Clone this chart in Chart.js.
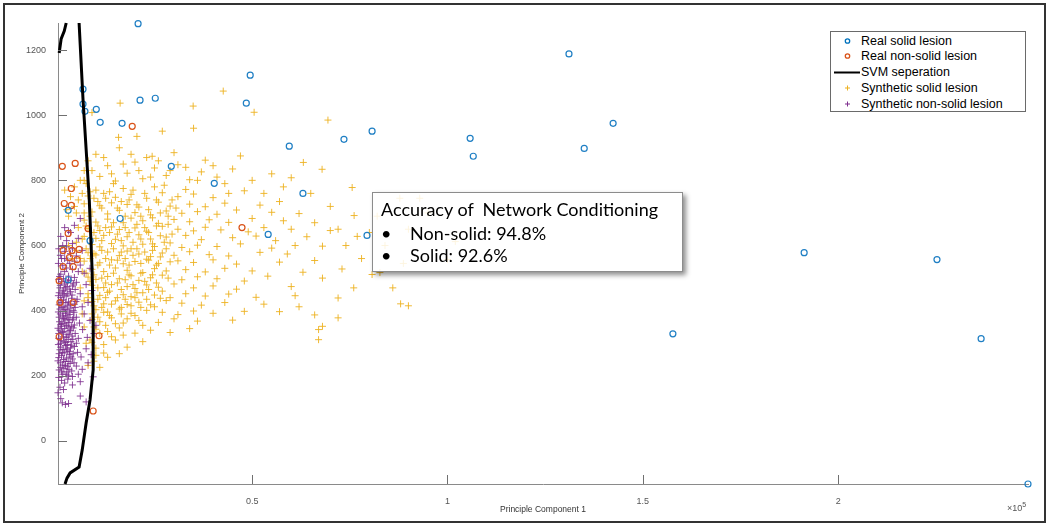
<!DOCTYPE html>
<html>
<head>
<meta charset="utf-8">
<script src="https://cdn.jsdelivr.net/npm/chart.js@4.4.1/dist/chart.umd.min.js"></script>
<style>
  body { margin: 0; background: #fff; }
  #wrap { position: relative; width: 1050px; height: 528px; }
  #legend {
    position: absolute; left: 830px; top: 31px; width: 194px; height: 79px;
    border: 1px solid #6a6a6a; background: #fff;
    font: 12.5px "Liberation Sans", Arial, sans-serif; color: #000;
  }
  #legend .row { position: absolute; left: 0; height: 16px; line-height: 16px; white-space: nowrap; }
  #legend svg { position: absolute; left: 0; top: 0; }
  #legend span { position: absolute; left: 30px; top: 0; }
  #note {
    position: absolute; left: 372px; top: 192px; width: 309px; height: 78px;
    border: 1.5px solid #8c8c8c; background: rgba(255, 255, 255, 0.85);
    box-shadow: 3px 3px 5px rgba(0, 0, 0, 0.45);
    font: 18px Lato, "Open Sans", sans-serif; color: #000;
  }
  #note div { position: absolute; white-space: nowrap; }
  #expo { position: absolute; left: 1007px; top: 501px; font: 9px "Liberation Sans", Arial, sans-serif; color: #555; }
  #expo sup { font-size: 7px; }
</style>
</head>
<body>
<div id="wrap">
  <canvas id="pca" width="1050" height="528"></canvas>
  <div id="legend">
    <div class="row" style="top:1px"><svg width="30" height="16"><circle cx="16.5" cy="8" r="2.2" fill="none" stroke="#0072BD" stroke-width="1.3"/></svg><span>Real solid lesion</span></div>
    <div class="row" style="top:16px"><svg width="30" height="16"><circle cx="16.5" cy="8" r="2.2" fill="none" stroke="#D95319" stroke-width="1.3"/></svg><span>Real non-solid lesion</span></div>
    <div class="row" style="top:32px"><svg width="30" height="16"><line x1="3" y1="8.5" x2="29" y2="8.5" stroke="#000" stroke-width="2"/></svg><span>SVM seperation</span></div>
    <div class="row" style="top:48px"><svg width="30" height="16"><path d="M16.5 5.5 V10.5 M14 8 H19" stroke="#EDB120" stroke-width="1"/></svg><span>Synthetic solid lesion</span></div>
    <div class="row" style="top:64px"><svg width="30" height="16"><path d="M16.5 5.5 V10.5 M14 8 H19" stroke="#7E2F8E" stroke-width="1"/></svg><span>Synthetic non-solid lesion</span></div>
  </div>
  <div id="note">
    <div style="left:8px; top:5px">Accuracy of &nbsp;Network Conditioning</div>
    <div style="left:8px; top:29px">&bull;</div>
    <div style="left:37px; top:29px">Non-solid: 94.8%</div>
    <div style="left:8px; top:51px">&bull;</div>
    <div style="left:37px; top:51px">Solid: 92.6%</div>
  </div>
  <div id="expo">&times;10<sup>5</sup></div>
</div>
<script>
// x values are in units of 1e5 (the axis shows "x10^5")
const xTickValues = [0.5, 1, 1.5, 2]
const yTickValues = [0, 200, 400, 600, 800, 1000, 1200]
const xRange = [0.003, 2.486]
const yRange = [-132, 1283]

const realSolid = [
  [0.208, 1281], [1.311, 1188], [0.495, 1123], [0.067, 1080], [0.067, 1034],
  [0.072, 1012], [0.101, 1018], [0.213, 1046], [0.252, 1052], [0.485, 1037],
  [0.111, 978], [0.167, 975], [1.424, 975], [1.058, 929], [0.735, 926],
  [0.807, 951], [0.595, 905], [1.350, 898], [1.066, 874], [0.293, 843],
  [0.403, 791], [0.630, 760], [0.029, 708], [0.162, 683], [0.541, 634],
  [0.794, 631], [0.085, 615], [1.913, 578], [2.253, 557], [1.577, 329],
  [2.366, 314], [2.486, -132], [0.029, 495]
]

const realNonSolid = [
  [0.193, 966], [0.014, 843], [0.047, 852], [0.037, 775], [0.019, 729],
  [0.037, 723], [0.029, 637], [0.080, 652], [0.016, 585], [0.039, 585],
  [0.057, 588], [0.032, 563], [0.052, 557], [0.016, 535], [0.042, 535],
  [0.006, 492], [0.008, 425], [0.042, 425], [0.006, 320], [0.108, 323],
  [0.093, 92], [0.474, 655]
]

const svmMain = [
  [0.057, 1283], [0.067, 1049], [0.083, 742], [0.090, 535], [0.093, 382],
  [0.093, 218], [0.085, 126], [0.075, 55], [0.065, -28], [0.057, -80],
  [0.034, -98], [0.026, -114], [0.021, -132]
]
const svmHook = [[0.006, 1191], [0.011, 1234], [0.019, 1258], [0.024, 1283]]

const synthSolid = [
  [0.08, 752], [0.12, 760], [0.15, 748], [0.19, 757], [0.23, 745], [0.27, 762], [0.31, 750], [0.35, 758],
  [0.40, 747], [0.44, 760], [0.10, 770], [0.17, 775], [0.25, 780], [0.33, 772], [0.48, 768],
  [0.07, 728], [0.11, 722], [0.14, 731], [0.18, 726], [0.21, 718], [0.26, 733], [0.29, 721], [0.34, 727],
  [0.38, 719], [0.43, 730], [0.52, 724], [0.57, 735],
  [0.09, 703], [0.13, 697], [0.16, 708], [0.20, 701], [0.24, 694], [0.28, 706], [0.32, 699], [0.36, 704],
  [0.41, 696], [0.46, 709], [0.55, 702], [0.62, 698],
  [0.07, 678], [0.10, 672], [0.13, 681], [0.17, 670], [0.19, 684], [0.22, 676], [0.26, 668], [0.30, 680],
  [0.34, 673], [0.39, 679], [0.44, 671], [0.50, 683], [0.58, 676], [0.66, 670],
  [0.08, 652], [0.11, 646], [0.14, 657], [0.16, 649], [0.20, 654], [0.23, 644], [0.27, 659], [0.31, 650],
  [0.35, 645], [0.38, 656], [0.42, 648], [0.49, 642], [0.53, 655], [0.60, 650], [0.70, 646],
  [0.07, 628], [0.10, 622], [0.12, 631], [0.15, 619], [0.18, 627], [0.21, 633], [0.24, 620], [0.28, 626],
  [0.33, 631], [0.37, 618], [0.45, 624], [0.51, 629], [0.56, 615], [0.64, 627],
  [0.09, 603], [0.11, 596], [0.14, 606], [0.17, 599], [0.19, 590], [0.22, 604], [0.25, 597], [0.29, 608],
  [0.32, 594], [0.36, 601], [0.41, 597], [0.47, 605], [0.55, 592], [0.61, 600], [0.68, 598],
  [0.08, 578], [0.10, 571], [0.13, 580], [0.16, 569], [0.18, 583], [0.21, 574], [0.24, 566], [0.27, 577],
  [0.30, 570], [0.34, 581], [0.39, 572], [0.44, 568], [0.52, 579], [0.59, 574],
  [0.07, 552], [0.11, 547], [0.14, 556], [0.17, 544], [0.20, 551], [0.23, 558], [0.26, 545], [0.31, 553],
  [0.35, 548], [0.40, 556], [0.46, 543], [0.57, 549], [0.66, 554],
  [0.09, 527], [0.12, 520], [0.15, 531], [0.18, 524], [0.22, 517], [0.25, 529], [0.28, 522], [0.33, 526],
  [0.38, 519], [0.43, 530], [0.50, 522], [0.63, 518], [0.73, 528],
  [0.08, 503], [0.10, 496], [0.13, 505], [0.16, 498], [0.19, 507], [0.21, 493], [0.24, 501], [0.27, 509],
  [0.32, 495], [0.36, 504], [0.41, 498], [0.48, 491], [0.54, 506], [0.68, 500],
  [0.09, 478], [0.12, 471], [0.14, 480], [0.18, 474], [0.20, 468], [0.23, 479], [0.26, 472], [0.30, 482],
  [0.35, 470], [0.40, 476], [0.46, 466], [0.60, 474], [0.76, 470],
  [0.08, 452], [0.11, 447], [0.13, 456], [0.17, 449], [0.19, 443], [0.22, 455], [0.25, 448], [0.29, 440],
  [0.33, 452], [0.38, 445], [0.44, 451], [0.51, 441], [0.61, 446], [0.72, 439],
  [0.09, 428], [0.12, 421], [0.15, 430], [0.18, 419], [0.21, 426], [0.24, 418], [0.28, 431], [0.32, 423],
  [0.37, 417], [0.43, 425], [0.53, 420], [0.62, 412], [0.88, 421], [0.90, 415],
  [0.10, 403], [0.13, 396], [0.16, 405], [0.19, 392], [0.23, 401], [0.27, 395], [0.31, 388], [0.35, 399],
  [0.40, 392], [0.48, 398], [0.57, 397], [0.66, 387],
  [0.09, 373], [0.11, 366], [0.14, 378], [0.17, 362], [0.21, 370], [0.26, 364], [0.30, 375], [0.36, 368],
  [0.45, 371], [0.72, 378], [0.68, 352],
  [0.10, 343], [0.13, 336], [0.16, 347], [0.20, 331], [0.24, 340], [0.29, 333], [0.34, 345], [0.67, 342], [0.67, 311],
  [0.09, 303], [0.12, 296], [0.15, 310], [0.18, 288], [0.22, 305],
  [0.10, 263], [0.13, 257], [0.16, 268], [0.08, 232], [0.11, 226],
  [0.07, 800], [0.09, 830], [0.11, 812], [0.13, 845], [0.15, 798], [0.18, 822], [0.20, 856], [0.22, 805],
  [0.25, 838], [0.28, 815], [0.31, 848], [0.34, 802], [0.37, 826], [0.41, 810], [0.45, 835], [0.50, 800],
  [0.55, 820], [0.60, 808], [0.631, 855], [0.679, 834], [0.756, 778],
  [0.10, 880], [0.16, 900], [0.23, 870], [0.30, 885], [0.38, 862], [0.47, 875],
  [0.158, 932], [0.205, 935], [0.27, 951], [0.244, 874], [0.35, 960],
  [0.426, 1074], [0.505, 1009], [0.694, 985], [0.162, 1037], [0.349, 1028], [0.09, 1008],
  [0.878, 745], [0.929, 745], [0.887, 545], [1.00, 557], [1.02, 612], [0.807, 511], [0.827, 517],
  [0.761, 692], [0.769, 628], [0.82, 690], [0.80, 640], [0.84, 600], [0.90, 650], [0.95, 700],
  [0.86, 470], [0.78, 560], [0.74, 600], [0.72, 650], [0.70, 720], [0.65, 760], [0.58, 780], [0.53, 760],
  [0.03, 690], [0.045, 720], [0.02, 770], [0.05, 610], [0.04, 560], [0.055, 655], [0.06, 800],
  // denser core near the separation line
  [0.075, 790], [0.085, 765], [0.095, 745], [0.105, 735], [0.115, 715], [0.125, 745], [0.135, 765], [0.145, 790],
  [0.155, 715], [0.165, 735], [0.175, 690], [0.185, 740], [0.195, 770], [0.205, 725], [0.215, 690], [0.225, 760],
  [0.235, 710], [0.245, 685], [0.255, 740], [0.265, 700], [0.275, 785], [0.285, 690], [0.295, 740], [0.305, 715],
  [0.075, 660], [0.085, 690], [0.095, 640], [0.105, 660], [0.115, 615], [0.125, 655], [0.135, 640], [0.145, 670],
  [0.155, 635], [0.165, 615], [0.175, 655], [0.185, 640], [0.195, 610], [0.205, 665], [0.215, 620], [0.225, 655],
  [0.235, 640], [0.245, 605], [0.255, 660], [0.265, 630], [0.275, 610], [0.285, 665], [0.295, 635],
  [0.075, 590], [0.085, 560], [0.095, 575], [0.105, 540], [0.115, 585], [0.125, 560], [0.135, 540], [0.145, 590],
  [0.155, 555], [0.165, 580], [0.175, 560], [0.185, 540], [0.195, 570], [0.205, 590], [0.215, 545], [0.225, 580],
  [0.235, 555], [0.245, 585], [0.255, 540], [0.265, 565], [0.28, 590], [0.29, 550],
  [0.075, 515], [0.085, 490], [0.095, 510], [0.105, 470], [0.115, 500], [0.125, 485], [0.135, 460], [0.145, 515],
  [0.155, 485], [0.165, 465], [0.175, 495], [0.185, 510], [0.195, 480], [0.205, 455], [0.215, 515], [0.225, 490],
  [0.235, 465], [0.245, 510], [0.255, 485], [0.27, 460], [0.285, 500],
  [0.08, 440], [0.095, 415], [0.105, 435], [0.115, 410], [0.125, 440], [0.14, 420], [0.155, 440], [0.165, 410],
  [0.175, 435], [0.19, 415], [0.2, 440], [0.215, 410], [0.23, 435], [0.25, 412], [0.265, 438],
  [0.09, 390], [0.105, 380], [0.12, 395], [0.135, 385], [0.15, 360], [0.165, 390], [0.18, 375], [0.2, 385],
  [0.22, 355], [0.095, 350], [0.11, 330], [0.125, 355], [0.14, 320], [0.17, 325], [0.085, 310], [0.1, 285],
  [0.12, 270], [0.095, 245],
  [0.08, 860], [0.12, 870], [0.14, 820], [0.19, 880], [0.21, 830], [0.26, 860], [0.17, 850], [0.24, 810],
  [0.29, 830], [0.33, 840], [0.36, 800], [0.4, 845], [0.43, 790],
  [0.035, 750], [0.05, 700], [0.025, 710], [0.045, 780], [0.055, 740], [0.03, 600], [0.05, 585], [0.06, 560],
  [0.065, 520], [0.06, 470], [0.07, 430], [0.065, 390], [0.07, 350], [0.075, 300], [0.065, 620], [0.07, 700],
  [0.065, 760], [0.07, 830]
]

const synthNonSolid = [
  [0.06, 683], [0.045, 662], [0.02, 655], [0.035, 640],
  [0.01, 628], [0.025, 615], [0.04, 606], [0.015, 600], [0.055, 622], [0.03, 645],
  [0.005, 590], [0.02, 582], [0.035, 575], [0.05, 568], [0.012, 560], [0.028, 555], [0.065, 585], [0.045, 552],
  [0.004, 545], [0.015, 538], [0.025, 531], [0.04, 527], [0.055, 520], [0.01, 512], [0.03, 506], [0.045, 502],
  [0.07, 515], [0.02, 520], [0.06, 540], [0.085, 530],
  [0.005, 496], [0.012, 489], [0.02, 482], [0.03, 494], [0.04, 476], [0.05, 487], [0.008, 470], [0.018, 463],
  [0.026, 474], [0.035, 458], [0.047, 465], [0.06, 452], [0.075, 480], [0.015, 452], [0.09, 462],
  [0.004, 446], [0.01, 440], [0.017, 433], [0.024, 445], [0.03, 427], [0.038, 438], [0.045, 420], [0.006, 418],
  [0.013, 410], [0.021, 404], [0.028, 415], [0.036, 408], [0.052, 435], [0.065, 412], [0.08, 425], [0.042, 400],
  [0.011, 425], [0.019, 448],
  [0.004, 396], [0.009, 390], [0.015, 384], [0.022, 392], [0.028, 378], [0.034, 388], [0.04, 372], [0.007, 366],
  [0.013, 360], [0.019, 372], [0.025, 355], [0.031, 364], [0.037, 352], [0.05, 380], [0.058, 362], [0.07, 390],
  [0.085, 370], [0.1, 355], [0.016, 398], [0.044, 395],
  [0.003, 346], [0.008, 340], [0.014, 333], [0.02, 345], [0.026, 328], [0.033, 338], [0.039, 322], [0.005, 315],
  [0.011, 308], [0.017, 320], [0.023, 302], [0.029, 312], [0.036, 305], [0.047, 330], [0.055, 315], [0.066, 342],
  [0.078, 318], [0.095, 330], [0.012, 352], [0.042, 347],
  [0.004, 296], [0.01, 288], [0.016, 281], [0.022, 293], [0.028, 276], [0.035, 286], [0.006, 268], [0.012, 262],
  [0.019, 270], [0.025, 255], [0.032, 265], [0.045, 290], [0.053, 272], [0.062, 258], [0.075, 283], [0.04, 252],
  [0.088, 265],
  [0.003, 246], [0.009, 240], [0.015, 233], [0.021, 244], [0.027, 228], [0.034, 238], [0.006, 218], [0.012, 212],
  [0.018, 222], [0.024, 205], [0.038, 215], [0.05, 230], [0.065, 220], [0.08, 240], [0.093, 197], [0.03, 200],
  [0.005, 195], [0.012, 186], [0.02, 178], [0.008, 165], [0.017, 158], [0.028, 190], [0.04, 172], [0.06, 182],
  [0.003, 148],
  [0.014, 117], [0.022, 112], [0.03, 115], [0.06, 138], [0.075, 120], [0.01, 130],
  // the packed column along the left edge
  [0.007, 505], [0.017, 498], [0.027, 486], [0.036, 492], [0.009, 478], [0.022, 470], [0.033, 466], [0.043, 482],
  [0.006, 455], [0.016, 460], [0.028, 452], [0.039, 448], [0.011, 432], [0.023, 425], [0.034, 420], [0.049, 428],
  [0.008, 405], [0.018, 412], [0.026, 402], [0.032, 396], [0.047, 410], [0.006, 380], [0.017, 376], [0.024, 384],
  [0.031, 372], [0.043, 378], [0.01, 358], [0.021, 362], [0.029, 350], [0.035, 340], [0.045, 356], [0.005, 330],
  [0.016, 336], [0.024, 318], [0.031, 326], [0.041, 312], [0.009, 300], [0.019, 305], [0.027, 296], [0.038, 294],
  [0.05, 300], [0.008, 280], [0.014, 272], [0.025, 282], [0.033, 274], [0.042, 268], [0.005, 256], [0.017, 250],
  [0.029, 244], [0.036, 258], [0.01, 226], [0.022, 232], [0.031, 220], [0.044, 240], [0.015, 205], [0.026, 212],
  [0.04, 198], [0.055, 205], [0.02, 560], [0.033, 545], [0.009, 570], [0.025, 596], [0.04, 590]
]

const toPoints = arr => arr.map(p => ({ x: p[0], y: p[1] }))

const frameAndTicks = {
  id: 'frameAndTicks',
  beforeDraw(chart) {
    const c = chart.ctx
    c.save()
    c.fillStyle = '#fff'
    c.fillRect(0, 0, chart.width, chart.height)
    c.restore()
  },
  afterDraw(chart) {
    const c = chart.ctx
    const sx = chart.scales.x
    const sy = chart.scales.y
    const area = chart.chartArea
    c.save()
    c.strokeStyle = '#707070'
    c.lineWidth = 1
    c.beginPath()
    sx.ticks.forEach(t => {
      const px = Math.round(sx.getPixelForValue(t.value)) + 0.5
      c.moveTo(px, area.bottom)
      c.lineTo(px, area.bottom - 9)
    })
    sy.ticks.forEach(t => {
      const py = Math.round(sy.getPixelForValue(t.value)) + 0.5
      c.moveTo(area.left, py)
      c.lineTo(area.left + 9, py)
    })
    c.stroke()
    c.strokeStyle = '#333'
    c.lineWidth = 2
    c.strokeRect(4, 4, 1041, 518)
    c.restore()
  }
}

const scatterSet = (label, data, color, style, radius, width, order) => ({
  label: label,
  data: toPoints(data),
  showLine: false,
  pointStyle: style,
  pointRadius: radius,
  pointBorderWidth: width,
  pointBorderColor: color,
  pointBackgroundColor: 'rgba(0,0,0,0)',
  clip: false,
  order: order,
})

const chartPca = new Chart(document.getElementById('pca').getContext('2d'), {
  type: 'scatter',
  data: {
    datasets: [
      {
        label: 'SVM seperation',
        data: toPoints(svmMain),
        showLine: true,
        borderColor: '#000',
        borderWidth: 3,
        pointRadius: 0,
        clip: false,
        order: 0,
      },
      {
        label: 'SVM seperation (edge)',
        data: toPoints(svmHook),
        showLine: true,
        borderColor: '#000',
        borderWidth: 3,
        pointRadius: 0,
        clip: false,
        order: 0,
      },
      scatterSet('Real solid lesion', realSolid, '#1f7fc4', 'circle', 3, 1.2, 1),
      scatterSet('Real non-solid lesion', realNonSolid, '#D95319', 'circle', 3, 1.2, 2),
      scatterSet('Synthetic non-solid lesion', synthNonSolid, 'rgba(126,47,142,0.85)', 'cross', 3.5, 1, 3),
      scatterSet('Synthetic solid lesion', synthSolid, 'rgba(237,177,32,0.9)', 'cross', 3.5, 1, 4),
    ]
  },
  options: {
    responsive: false,
    animation: false,
    devicePixelRatio: 1,
    layout: { padding: { top: 23, right: 22, left: 0, bottom: 0 } },
    plugins: { legend: { display: false }, tooltip: { enabled: false } },
    scales: {
      x: {
        type: 'linear',
        min: xRange[0],
        max: xRange[1],
        afterBuildTicks: s => { s.ticks = xTickValues.map(v => ({ value: v })) },
        afterFit: s => { s.height = 44 },
        grid: { display: false },
        border: { display: true, color: '#8a8a8a', width: 1 },
        ticks: {
          padding: 4,
          color: '#555',
          font: { family: 'Liberation Sans', size: 9 },
          callback: v => String(v),
        },
        title: {
          display: true,
          text: 'Principle Component 1',
          color: '#333',
          font: { family: 'Liberation Sans', size: 8.5 },
          padding: { top: 0, bottom: 13 },
        },
      },
      y: {
        type: 'linear',
        min: yRange[0],
        max: yRange[1],
        afterBuildTicks: s => { s.ticks = yTickValues.map(v => ({ value: v })) },
        afterFit: s => { s.width = 58 },
        grid: { display: false },
        border: { display: true, color: '#8a8a8a', width: 1 },
        ticks: {
          padding: 4,
          color: '#555',
          font: { family: 'Liberation Sans', size: 9 },
          callback: v => String(v),
        },
        title: {
          display: true,
          text: 'Principle Component 2',
          color: '#333',
          font: { family: 'Liberation Sans', size: 8 },
          padding: { top: 17, bottom: 0 },
        },
      },
    },
  },
  plugins: [frameAndTicks],
})
</script>
</body>
</html>
